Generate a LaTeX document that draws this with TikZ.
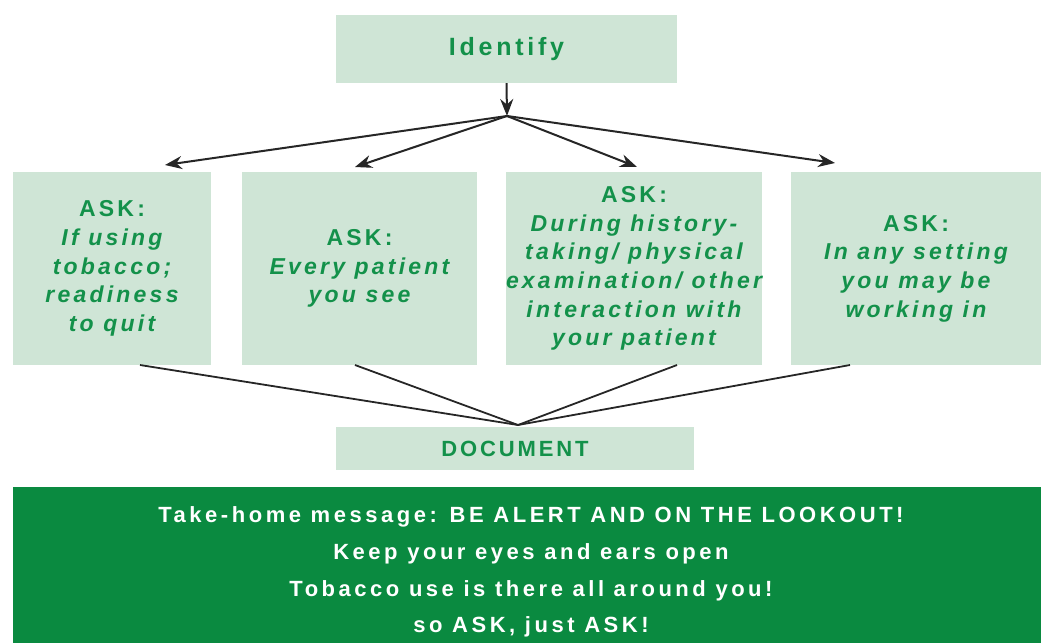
\documentclass[tikz,border=0pt]{standalone}
\usepackage{fontspec}
\setmainfont{Liberation Sans}
\newfontfamily\idfont[LetterSpace=15]{Liberation Sans}
\newfontfamily\boxfont[LetterSpace=14]{Liberation Sans}
\newfontfamily\docfont[LetterSpace=13]{Liberation Sans}
\newfontfamily\bandfont[LetterSpace=16]{Liberation Sans}
\usetikzlibrary{arrows.meta}
\definecolor{boxfill}{HTML}{CFE5D6}
\definecolor{textgreen}{HTML}{13914A}
\definecolor{bandgreen}{HTML}{0A8A40}
\tikzset{
  lbox/.style={fill=boxfill, draw=none, inner sep=0pt, text=textgreen, align=center},
  ask/.style={lbox, minimum height=193pt, font=\boxfont\bfseries\fontsize{23}{28.6}\selectfont},
  arr/.style={line width=2pt, draw=black!85, -{Stealth[length=17pt,width=13pt]}},
  joinline/.style={line width=1.8pt, draw=black!85},
}
\begin{document}
\begin{tikzpicture}[x=1pt,y=-1pt]
\useasboundingbox (0,0) rectangle (1041,643);
\node[lbox, minimum width=341pt, minimum height=68pt, font=\idfont\bfseries\fontsize{25}{28}\selectfont] (id) at (506.5,49) {Identify};
\node[ask, minimum width=198pt] (b1) at (112,268.5) {ASK:\\\itshape If using\\\itshape tobacco;\\\itshape readiness\\\itshape to quit};
\node[ask, minimum width=235pt] (b2) at (359.5,268.5) {ASK:\\\itshape Every patient\\\itshape you see};
\node[ask, minimum width=256pt] (b3) at (634,268.5) {ASK:\\\itshape During history-\\\itshape taking/ physical\\\itshape examination/ other\\\itshape interaction with\\\itshape your patient};
\node[ask, minimum width=250pt] (b4) at (916,268.5) {ASK:\\\itshape In any setting\\\itshape you may be\\\itshape working in};
\node[lbox, minimum width=358pt, minimum height=43pt, font=\docfont\bfseries\fontsize{22}{24}\selectfont] (doc) at (515,448.5) {DOCUMENT};
\node[fill=bandgreen, inner sep=0pt, minimum width=1028pt, minimum height=156pt] (band) at (527,565) {};
\node[text=white, align=center, inner sep=0pt, font=\bandfont\bfseries\fontsize{22}{36.7}\selectfont] (msg) at (531,572) {Take-home message: BE ALERT AND ON THE LOOKOUT!\\Keep your eyes and ears open\\Tobacco use is there all around you!\\so ASK, just ASK!};
% connectors
\coordinate (J) at (507,116);
\coordinate (t1) at (165,165);
\coordinate (t2) at (355,167);
\coordinate (t3) at (637,167);
\coordinate (t4) at (835,163);
\draw[arr] (id.south) -- (J);
\draw[arr] (J) -- (t1);
\draw[arr] (J) -- (t2);
\draw[arr] (J) -- (t3);
\draw[arr] (J) -- (t4);
\coordinate (D) at (518,425);
\coordinate (s1) at (140,365);
\coordinate (s2) at (355,365);
\coordinate (s3) at (677,365);
\coordinate (s4) at (850,365);
\draw[joinline] (s1) -- (D);
\draw[joinline] (s2) -- (D);
\draw[joinline] (s3) -- (D);
\draw[joinline] (s4) -- (D);
\end{tikzpicture}
\end{document}
